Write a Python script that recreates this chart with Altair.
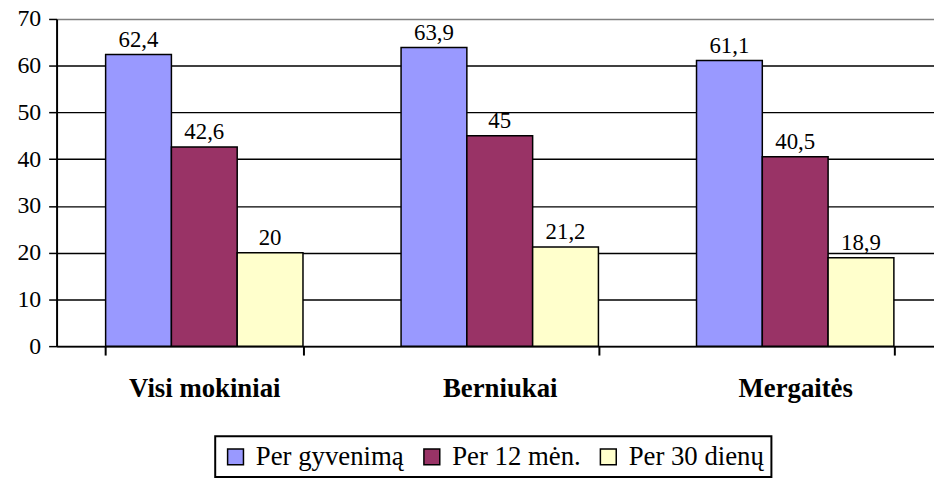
import altair as alt
import pandas as pd

groups = ["Visi mokiniai", "Berniukai", "Mergaitės"]
series = ["Per gyvenimą", "Per 12 mėn.", "Per 30 dienų"]
per_gyvenima = [62.4, 63.9, 61.1]
per_12_men = [42.6, 45.0, 40.5]
per_30_dienu = [20.0, 21.2, 18.9]
colors = ["#9999FF", "#993366", "#FFFFCC"]
y_ticks = [0, 10, 20, 30, 40, 50, 60, 70]

rows = []
for s, vals in zip(series, [per_gyvenima, per_12_men, per_30_dienu]):
    for g, v in zip(groups, vals):
        rows.append({"group": g, "series": s, "value": v})
df = pd.DataFrame(rows)

FONT = "Liberation Serif, Times New Roman, serif"

x_enc = alt.X(
    "group:N",
    sort=groups,
    scale=alt.Scale(range=[0, 894], paddingInner=0.332, paddingOuter=0.166),
    axis=alt.Axis(
        title=None,
        labelAngle=0,
        labelFont=FONT,
        labelFontWeight="bold",
        labelFontSize=27,
        labelColor="black",
        labelBaseline="alphabetic",
        labelPadding=42,
        tickBand="extent",
        tickSize=9,
        tickWidth=2,
        tickColor="black",
        domainColor="black",
        domainWidth=2,
        grid=False,
    ),
)
xoff_enc = alt.XOffset("series:N", sort=series, scale=alt.Scale(paddingInner=0, paddingOuter=0))
y_enc = alt.Y(
    "value:Q",
    scale=alt.Scale(domain=[0, 70], nice=False),
    axis=alt.Axis(
        title=None,
        values=y_ticks,
        labelFont=FONT,
        labelFontSize=24,
        labelColor="black",
        labelPadding=8,
        tickSize=8,
        tickWidth=1.5,
        tickColor="black",
        domainColor="black",
        domainWidth=2,
        grid=True,
        gridColor={"condition": {"test": "datum.value === 70", "value": "#808080"}, "value": "black"},
        gridWidth=1.4,
    ),
)

bars = alt.Chart(df).mark_bar(stroke="black", strokeWidth=1.5).encode(
    x=x_enc,
    xOffset=xoff_enc,
    y=y_enc,
    color=alt.Color(
        "series:N",
        sort=series,
        scale=alt.Scale(domain=series, range=colors),
        legend=alt.Legend(
            orient="none",
            legendX=160,
            legendY=421,
            direction="horizontal",
            title=None,
            labelFont=FONT,
            labelFontSize=27,
            labelColor="black",
            labelLimit=400,
            labelOffset=7,
            columnPadding=14,
            padding=7,
            symbolType="square",
            symbolSize=256,
            symbolStrokeColor="black",
            symbolStrokeWidth=1.5,
            symbolOpacity=1,
            strokeColor="black",
        ),
    ),
)

labels = alt.Chart(df).transform_calculate(
    label="replace(toString(datum.value), '.', ',')"
).mark_text(baseline="alphabetic", dy=-8, font=FONT, fontSize=23, color="black").encode(
    x=alt.X("group:N", sort=groups),
    xOffset=alt.XOffset("series:N", sort=series),
    y=alt.Y("value:Q"),
    text="label:N",
)

chart = (
    alt.layer(bars, labels)
    .properties(
        width=885,
        height=330,
        autosize=alt.AutoSizeParams(type="none"),
        padding={"left": 49, "top": 9, "right": 0, "bottom": 137},
        background="white",
    )
    .configure_view(stroke=None)
    .configure_legend(strokeWidth=2)
)

chart.save("out.html", embed_options={"renderer": "svg", "actions": False})
